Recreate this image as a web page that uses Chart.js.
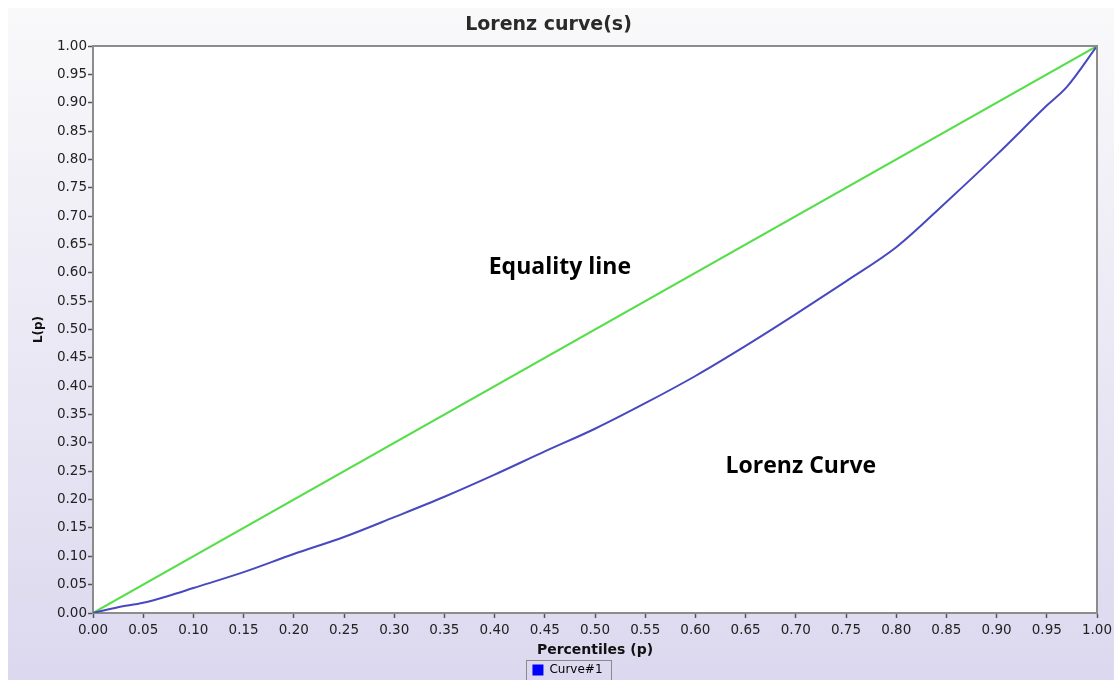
<!DOCTYPE html>
<html><head><meta charset="utf-8">
<script src="https://cdn.jsdelivr.net/npm/chart.js@4"></script>
<style>html,body{margin:0;padding:0;background:#fff;overflow:hidden;}</style>
</head><body>
<canvas id="c" width="1114" height="680"></canvas>
<script>
// ---- data ----
const percentiles = [0, 0.025, 0.05, 0.075, 0.10, 0.15, 0.20, 0.25, 0.30, 0.35, 0.40, 0.45, 0.50, 0.55, 0.60, 0.65, 0.70, 0.75, 0.80, 0.85, 0.90, 0.95, 0.97, 1.00];
const lorenzValues = [0, 0.010, 0.018, 0.030, 0.044, 0.072, 0.104, 0.134, 0.169, 0.205, 0.244, 0.285, 0.325, 0.370, 0.418, 0.471, 0.527, 0.585, 0.645, 0.725, 0.808, 0.895, 0.928, 1.00];
const equalityPercentiles = [0, 1];
const equalityValues = [0, 1];
const xTickLabels = ["0.00","0.05","0.10","0.15","0.20","0.25","0.30","0.35","0.40","0.45","0.50","0.55","0.60","0.65","0.70","0.75","0.80","0.85","0.90","0.95","1.00"];
const yTickLabels = ["0.00","0.05","0.10","0.15","0.20","0.25","0.30","0.35","0.40","0.45","0.50","0.55","0.60","0.65","0.70","0.75","0.80","0.85","0.90","0.95","1.00"];
const seriesNames = ["Curve#1", "Equality line"];
const chartTitle = "Lorenz curve(s)";
const xAxisTitle = "Percentiles (p)";
const yAxisTitle = "L(p)";
const annotationTexts = ["Equality line", "Lorenz Curve"];

// ---- plugins ----
const backgroundPlugin = {
  id: 'bg',
  beforeDraw(chart) {
    const ctx = chart.ctx, W = chart.width, H = chart.height;
    ctx.save();
    ctx.fillStyle = '#ffffff';
    ctx.fillRect(0, 0, W, H);
    const g = ctx.createLinearGradient(0, 8, 0, H);
    g.addColorStop(0, '#f9f9fa');
    g.addColorStop(1, '#dcd8ef');
    ctx.fillStyle = g;
    ctx.fillRect(8, 8, W - 8, H - 8);
    const a = chart.chartArea;
    ctx.fillStyle = '#ffffff';
    ctx.fillRect(a.left, a.top, a.right - a.left, a.bottom - a.top);
    ctx.restore();
  },
  afterDraw(chart) {
    const ctx = chart.ctx, a = chart.chartArea;
    ctx.save();
    ctx.strokeStyle = '#8c8c8c';
    ctx.lineWidth = 2;
    ctx.beginPath();
    ctx.moveTo(a.left, a.top);
    ctx.lineTo(a.right, a.top);
    ctx.lineTo(a.right, a.bottom);
    ctx.stroke();
    // legend border
    const lg = chart.legend;
    if (lg && lg.lineWidths) {
      const pad = 2;
      const lw = lg.lineWidths[0];
      const x0 = (lg.left + pad + lg.right - lw) / 2;
      const itemY = lg.top + pad;
      ctx.strokeStyle = '#8a8a8a';
      ctx.lineWidth = 1;
      ctx.strokeRect(Math.round(x0 - 6) + 0.5, Math.round(itemY - 4) + 0.5, Math.round(lw + 13), 40);
    }
    ctx.restore();
  }
};

const legendShiftPlugin = {
  id: 'legendShift',
  afterLayout(chart) {
    const lg = chart.legend;
    if (!lg) return;
    lg.top += 6; lg.bottom += 6;
    lg.left += 19; lg.right += 19;
  }
};

const annotationPlugin = {
  id: 'notes',
  afterDatasetsDraw(chart, args, opts) {
    const ctx = chart.ctx, xs = chart.scales.x, ys = chart.scales.y;
    ctx.save();
    ctx.font = 'bold 23px "Open Sans"';
    ctx.fillStyle = '#000';
    ctx.textAlign = 'center';
    ctx.textBaseline = 'alphabetic';
    opts.items.forEach((it, i) => {
      ctx.fillText(annotationTexts[i], xs.getPixelForValue(it.p), ys.getPixelForValue(it.L));
    });
    ctx.restore();
  }
};

const tickFont = {family: '"DejaVu Sans"', size: 13.5};

new Chart(document.getElementById('c'), {
  type: 'line',
  data: {
    datasets: [
      {
        label: seriesNames[0],
        data: percentiles.map((p, i) => ({x: p, y: lorenzValues[i]})),
        borderColor: 'rgb(72,72,192)',
        backgroundColor: '#0000ff',
        borderWidth: 2,
        pointRadius: 0,
        cubicInterpolationMode: 'monotone',
        fill: false
      },
      {
        label: seriesNames[1],
        data: equalityPercentiles.map((p, i) => ({x: p, y: equalityValues[i]})),
        borderColor: 'rgb(84,222,72)',
        backgroundColor: 'rgb(84,222,72)',
        borderWidth: 2,
        pointRadius: 0,
        fill: false
      }
    ]
  },
  options: {
    responsive: false,
    animation: false,
    layout: {padding: {left: 0, right: 17, top: 0, bottom: 0}},
    plugins: {
      title: {
        display: true,
        text: chartTitle,
        color: '#2a2a2a',
        font: {family: '"DejaVu Sans"', size: 19, weight: 'bold', lineHeight: 1.2},
        padding: {top: 14, bottom: 9.2}
      },
      legend: {
        position: 'bottom',
        labels: {
          boxWidth: 11,
          boxHeight: 11,
          padding: 2,
          color: '#111',
          font: {family: '"DejaVu Sans"', size: 12},
          filter: (item) => item.datasetIndex === 0,
          generateLabels: (chart) => chart.data.datasets.map((d, i) => ({
            text: d.label, fillStyle: '#0000ff', strokeStyle: '#0000ff', lineWidth: 0, datasetIndex: i, hidden: false
          }))
        }
      },
      tooltip: {enabled: false},
      notes: {items: [{p: 0.465, L: 0.598}, {p: 0.705, L: 0.247}]}
    },
    scales: {
      x: {
        type: 'linear',
        min: 0, max: 1,
        afterBuildTicks: (s) => { s.ticks = xTickLabels.map(t => ({value: parseFloat(t)})); },
        afterFit: (s) => { s.height = 43; s.paddingRight = 15; s.paddingLeft = 15; },
        ticks: {
          autoSkip: false, maxRotation: 0, minRotation: 0,
          callback: (v, i) => xTickLabels[i],
          font: tickFont, color: '#222', padding: 4
        },
        grid: {drawOnChartArea: false, drawTicks: true, tickLength: 5, tickColor: '#555', tickWidth: 1.5},
        border: {display: true, color: '#8c8c8c', width: 2},
        title: {
          display: true, text: xAxisTitle, color: '#111',
          font: {family: '"DejaVu Sans"', size: 14, weight: 'bold', lineHeight: 1.2},
          padding: {top: 0, bottom: -3}
        }
      },
      y: {
        type: 'linear',
        min: 0, max: 1,
        afterBuildTicks: (s) => { s.ticks = yTickLabels.map(t => ({value: parseFloat(t)})); },
        afterFit: (s) => { s.width = 93; },
        ticks: {
          autoSkip: false,
          callback: (v, i) => yTickLabels[i],
          font: tickFont, color: '#222', padding: 1
        },
        grid: {drawOnChartArea: false, drawTicks: true, tickLength: 5, tickColor: '#555', tickWidth: 1.5},
        border: {display: true, color: '#8c8c8c', width: 2},
        title: {
          display: true, text: yAxisTitle, color: '#111',
          font: {family: '"DejaVu Sans"', size: 12, weight: 'bold', lineHeight: 1.2},
          padding: {top: 32, bottom: 0}
        }
      }
    }
  },
  plugins: [backgroundPlugin, legendShiftPlugin, annotationPlugin]
});
</script>
</body></html>
